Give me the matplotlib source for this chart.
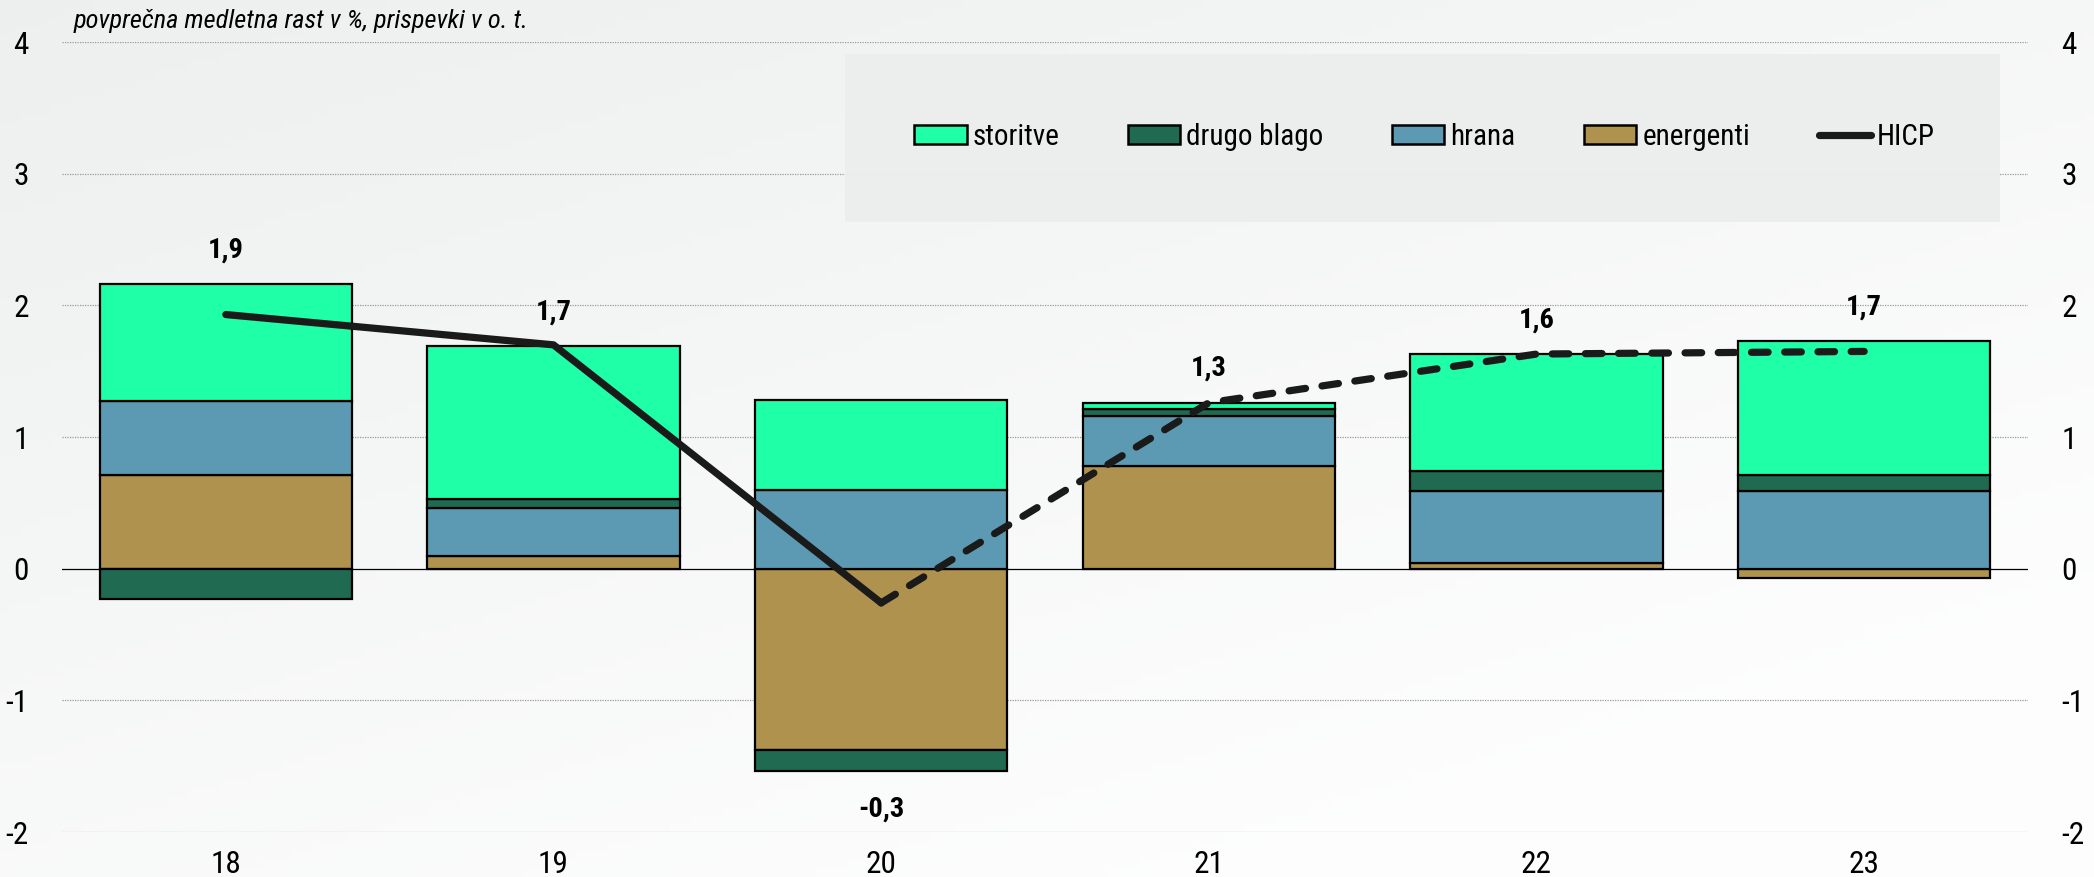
import numpy as np
from matplotlib import pyplot as plt
from matplotlib import font_manager
from matplotlib.patches import Rectangle
from matplotlib.lines import Line2D

# data
years = ["18", "19", "20", "21", "22", "23"]
energenti = [0.71, 0.10, -1.38, 0.78, 0.04, -0.07]
hrana = [0.56, 0.36, 0.60, 0.38, 0.55, 0.59]
drugo_blago = [-0.23, 0.07, -0.16, 0.05, 0.15, 0.12]
storitve = [0.89, 1.16, 0.68, 0.05, 0.89, 1.02]
hicp = [1.93, 1.70, -0.26, 1.26, 1.63, 1.65]
hicp_labels = ["1,9", "1,7", "-0,3", "1,3", "1,6", "1,7"]

# look for a narrow sans face (reference uses Arial Narrow)
fonts = font_manager.fontManager.ttflist
cond = [f for f in fonts if str(f.stretch) in ("condensed", "semi-condensed", "extra-condensed")
        or "Narrow" in f.name or "Condensed" in f.name]
pref = ["Liberation Sans Narrow", "Roboto Condensed", "DejaVu Sans", "Open Sans", "Noto Sans"]
chosen = None
for p in pref:
    if any(f.name == p for f in cond):
        chosen = p
        break
if chosen is None and cond:
    chosen = cond[0].name
if chosen:
    plt.rcParams["font.family"] = [chosen, "DejaVu Sans"]
    plt.rcParams["font.stretch"] = "condensed"
    fs = 1.0
else:
    plt.rcParams["font.family"] = ["Liberation Sans", "DejaVu Sans"]
    fs = 0.9
plt.rcParams["axes.unicode_minus"] = False

W, H = 2094, 877
fig = plt.figure(figsize=(W / 100, H / 100), dpi=100)

# soft gradient background
bg = fig.add_axes([0, 0, 1, 1], zorder=-10)
gx, gy = np.meshgrid(np.linspace(0, 1, 200), np.linspace(0, 1, 100))
g = np.clip((gx * 0.6 + gy * 0.8) / 1.2, 0, 1)
c0 = np.array([0.93, 0.94, 0.937])
c1 = np.array([0.996, 0.996, 0.996])
img = c0[None, None, :] * (1 - g[..., None]) + c1[None, None, :] * g[..., None]
bg.imshow(img, aspect="auto", extent=[0, 1, 0, 1], origin="upper")
bg.axis("off")

left, right, top, bottom = 62, 2028, 42, 832
ax = fig.add_axes([left / W, 1 - bottom / H, (right - left) / W, (bottom - top) / H])
ax.patch.set_alpha(0)

x = np.arange(len(years))
series = [
    ("energenti", energenti, "#b0924f"),
    ("hrana", hrana, "#5c9ab3"),
    ("drugo blago", drugo_blago, "#1f6a50"),
    ("storitve", storitve, "#1effa8"),
]
pos = np.zeros(len(years))
neg = np.zeros(len(years))
for name, vals, col in series:
    v = np.array(vals)
    base = np.where(v >= 0, pos, neg)
    ax.bar(x, v, bottom=base, width=0.77, color=col, edgecolor="black",
           linewidth=1.6, zorder=3)
    pos = pos + np.where(v >= 0, v, 0)
    neg = neg + np.where(v < 0, v, 0)

ax.plot(x[:3], hicp[:3], color="#1a1a1a", lw=5.2, solid_capstyle="round",
        solid_joinstyle="round", zorder=5)
ax.plot(x[2:], hicp[2:], color="#1a1a1a", lw=5.2, dashes=(2.3, 2.3),
        dash_capstyle="round", zorder=5)

for i, lab in enumerate(hicp_labels):
    if hicp[i] >= 0:
        yy = pos[i] + 0.26
    else:
        yy = neg[i] - 0.29
    ax.text(x[i], yy, lab, ha="center", va="center", fontsize=20.5 * fs,
            fontweight="bold", zorder=6)

ax.set_xlim(-0.5, len(years) - 0.5)
ax.set_ylim(-2, 4)
ax.set_yticks(range(-2, 5))
ax.set_xticks(x)
ax.set_xticklabels(years)
for y in range(-2, 5):
    if y == 0:
        ax.axhline(0, color="black", lw=0.9, zorder=2)
    else:
        ax.axhline(y, color="#9a9a9a", lw=0.9, ls=(0, (1, 1)), zorder=1)
for s in ax.spines.values():
    s.set_visible(False)
ax.tick_params(axis="both", length=0, labelsize=22.5 * fs)
ax.tick_params(axis="y", pad=24)
ax.tick_params(axis="x", pad=13)

ax2 = ax.twinx()
ax2.set_ylim(-2, 4)
ax2.set_yticks(range(-2, 5))
ax2.tick_params(axis="y", length=0, labelsize=22.5 * fs, pad=24)
for s in ax2.spines.values():
    s.set_visible(False)

# legend panel
lx0, ly0, lx1, ly1 = 845, 54, 2000, 222
fig.patches.append(Rectangle((lx0 / W, 1 - ly1 / H), (lx1 - lx0) / W, (ly1 - ly0) / H,
                             transform=fig.transFigure, facecolor="#eceeed",
                             edgecolor="none", alpha=0.95, zorder=4))
handles = [Rectangle((0, 0), 1, 1, facecolor=c, edgecolor="black", linewidth=1.8)
           for _, _, c in reversed(series)]
handles.append(Line2D([0], [0], color="#1a1a1a", lw=5.2, solid_capstyle="round"))
labels = [n for n, _, _ in reversed(series)] + ["HICP"]
leg = fig.legend(handles, labels, loc="center left", ncol=5, frameon=False,
                 bbox_to_anchor=(914 / W, 1 - 137 / H), borderaxespad=0, borderpad=0,
                 fontsize=21 * fs, handlelength=1.8, handleheight=0.62,
                 handletextpad=0.2, columnspacing=2.35)
leg.set_zorder(6)

fig.text(74 / W, 1 - 21 / H, "povprečna medletna rast v %, prispevki v o. t.",
         fontsize=19 * fs, style="italic", va="center", ha="left")

fig.savefig("out.png", dpi=100)
